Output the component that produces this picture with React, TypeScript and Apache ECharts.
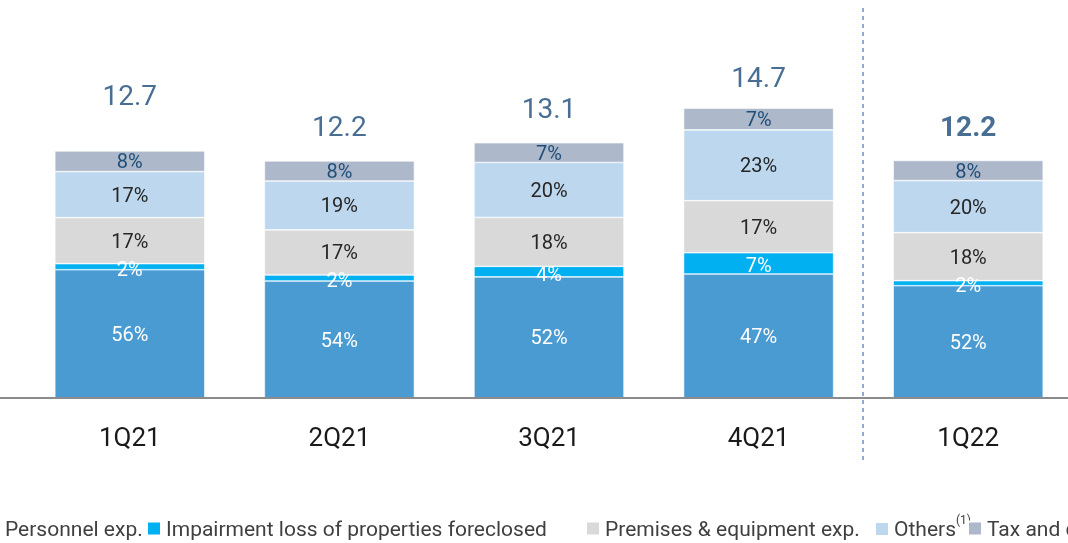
import React, { useEffect, useRef } from "react";
import * as echarts from "echarts";

const categories = ["1Q21", "2Q21", "3Q21", "4Q21", "1Q22"];
const totals = [12.7, 12.2, 13.1, 14.7, 12.2];

const personnel = [6.58, 6.0, 6.21, 6.36, 5.76];
const impairment = [0.31, 0.31, 0.54, 1.09, 0.26];
const premises = [2.36, 2.31, 2.51, 2.67, 2.46];
const others = [2.36, 2.51, 2.82, 3.63, 2.67];
const tax = [1.06, 1.03, 1.01, 1.11, 1.03];

const personnelPct = ["56%", "54%", "52%", "47%", "52%"];
const impairmentPct = ["2%", "2%", "4%", "7%", "2%"];
const premisesPct = ["17%", "17%", "18%", "17%", "18%"];
const othersPct = ["17%", "19%", "20%", "23%", "20%"];
const taxPct = ["8%", "8%", "7%", "7%", "8%"];

const seriesNames = [
  "Personnel exp.",
  "Impairment loss of properties foreclosed",
  "Premises & equipment exp.",
  "Others",
  "Tax and duties",
];

const FONT = "Roboto, 'Noto Sans', sans-serif";

export default function App() {
  const ref = useRef<HTMLDivElement>(null);

  useEffect(() => {
    if (!ref.current) return;
    const chart = echarts.init(ref.current, undefined, { renderer: "svg" });

    const mk = (
      name: string,
      data: number[],
      labels: string[],
      color: string,
      labelColor: string,
      offset: number[] = [0, 0]
    ) => ({
      name,
      type: "bar",
      stack: "total",
      barWidth: 150,
      data,
      itemStyle: { color, borderColor: "#ffffff", borderWidth: 0.6 },
      label: {
        show: true,
        position: "inside",
        offset,
        color: labelColor,
        fontSize: 20,
        fontFamily: FONT,
        formatter: (p: any) => labels[p.dataIndex],
      },
    });

    const legendLefts = [-20, 141, 580, 869, 962];
    const legendTops = [513, 513, 513, 509, 513];
    const legends = seriesNames.map((n, i) => ({
      data: [n],
      left: legendLefts[i],
      top: legendTops[i],
      width: 900,
      itemWidth: 14,
      itemHeight: 14,
      itemGap: 10,
      icon: "rect",
      textStyle: {
        color: "#404040",
        fontSize: 21,
        fontFamily: FONT,
        rich: { sup: { fontSize: 12, color: "#404040", verticalAlign: "top", padding: [0, 0, 18, 0] } },
      },
      formatter: (s: string) => (s === "Others" ? "Others{sup|(1)}" : s),
    }));

    chart.setOption({
      animation: false,
      grid: { left: 25, width: 1048, top: 8, bottom: 145, outerBoundsMode: "none" },
      xAxis: {
        type: "category",
        data: categories,
        axisLine: { show: false },
        axisTick: { show: false },
        axisLabel: { color: "#1a1a1a", fontSize: 26, fontFamily: FONT, margin: 26 },
      },
      yAxis: {
        type: "value",
        min: 0,
        max: 20,
        show: false,
        splitLine: { show: false },
      },
      legend: legends,
      graphic: [
        {
          type: "line",
          shape: { x1: 0, y1: 398, x2: 1068, y2: 398 },
          style: { stroke: "#8c8c8c", lineWidth: 2 },
          z: 10,
        },
        {
          type: "line",
          shape: { x1: 863, y1: 8, x2: 863, y2: 460 },
          style: { stroke: "#6f90bf", lineWidth: 1.5, lineDash: [4, 4] },
        },
      ],
      series: [
        mk(seriesNames[0], personnel, personnelPct, "#4b9bd3", "#ffffff"),
        mk(seriesNames[1], impairment, impairmentPct, "#00b0f0", "#ffffff", [0, 2]),
        mk(seriesNames[2], premises, premisesPct, "#d9d9d9", "#262626"),
        mk(seriesNames[3], others, othersPct, "#bdd7ee", "#262626"),
        mk(seriesNames[4], tax, taxPct, "#adb9ca", "#1f4e79"),
        {
          name: "Total",
          type: "scatter",
          symbolSize: 0,
          data: totals.map((v, i) => ({
            value: v,
            label: { distance: i === 0 ? 41 : 20, fontWeight: i === 4 ? "bold" : "normal" },
          })),
          label: {
            show: true,
            position: "top",
            color: "#1a4a78",
            fontSize: 28,
            fontFamily: FONT,
            formatter: (p: any) => totals[p.dataIndex].toFixed(1),
          },
          z: 5,
        },
      ],
    });

    return () => chart.dispose();
  }, []);

  return (
    <div
      ref={ref}
      style={{ position: "fixed", left: 0, top: 0, width: 1068, height: 543 }}
    />
  );
}
